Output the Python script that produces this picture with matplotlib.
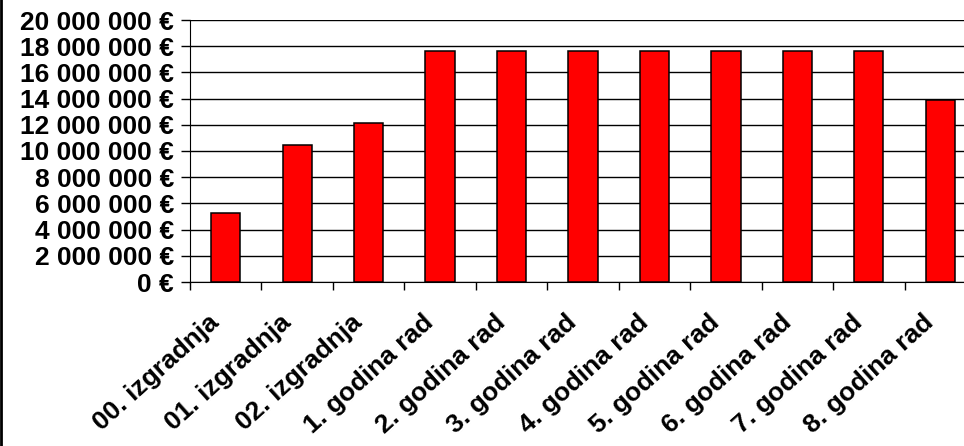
import matplotlib
matplotlib.use("Agg")
from matplotlib import pyplot as plt
from matplotlib.lines import Line2D
import matplotlib.transforms as mtransforms
import numpy as np

plt.rcParams['font.family'] = ['Liberation Sans', 'DejaVu Sans']

categories = ['00. izgradnja', '01. izgradnja', '02. izgradnja',
              '1. godina rad', '2. godina rad', '3. godina rad', '4. godina rad',
              '5. godina rad', '6. godina rad', '7. godina rad', '8. godina rad']
values = [5270000, 10440000, 12110000,
          17630000, 17630000, 17630000, 17630000,
          17630000, 17630000, 17630000, 13870000]
yticks = np.arange(0, 20000001, 2000000)


def euro(v):
    return '{:,.0f}'.format(v).replace(',', ' ') + ' €'


fig = plt.figure(figsize=(9.64, 4.46), dpi=100)
ax = fig.add_axes([190/964, 1-282/446, 786/964, 262/446])

x = np.arange(len(categories))
ax.bar(x, values, width=0.41, color='#ff0000', edgecolor='black', linewidth=1.1, zorder=3)

ax.set_xlim(-0.5, len(categories)-0.5)
ax.set_ylim(0, 20000000)
ax.set_yticks(yticks)
ax.set_yticklabels([euro(v) for v in yticks], fontsize=19, fontweight='bold')
ax.yaxis.grid(True, color='black', linewidth=1.0, zorder=0)
ax.set_axisbelow(True)

ax.set_xticks(x)
ax.set_xticklabels(categories, rotation=42, ha='right', va='center',
                   rotation_mode='anchor', fontsize=19, fontweight='bold')
ax.set_xticks(np.arange(-0.5, len(categories), 1), minor=True)
ax.tick_params(axis='x', which='major', length=0, pad=27)
ax.tick_params(axis='x', which='minor', length=6, width=1, color='black', direction='out')
ax.tick_params(axis='y', length=6.5, width=1, color='black', direction='out', pad=5)

# shift the rotated labels a little to the left
shift = mtransforms.ScaledTranslation(-7/72, 0, fig.dpi_scale_trans)
for lab in ax.get_xticklabels():
    lab.set_transform(lab.get_transform() + shift)

for s in ['top', 'right']:
    ax.spines[s].set_visible(False)
ax.spines['left'].set_color('black')
ax.spines['bottom'].set_color('black')

fig.add_artist(Line2D([0.001, 0.001], [0, 1], color='black', linewidth=2, transform=fig.transFigure))

fig.savefig('out.png', dpi=100)
